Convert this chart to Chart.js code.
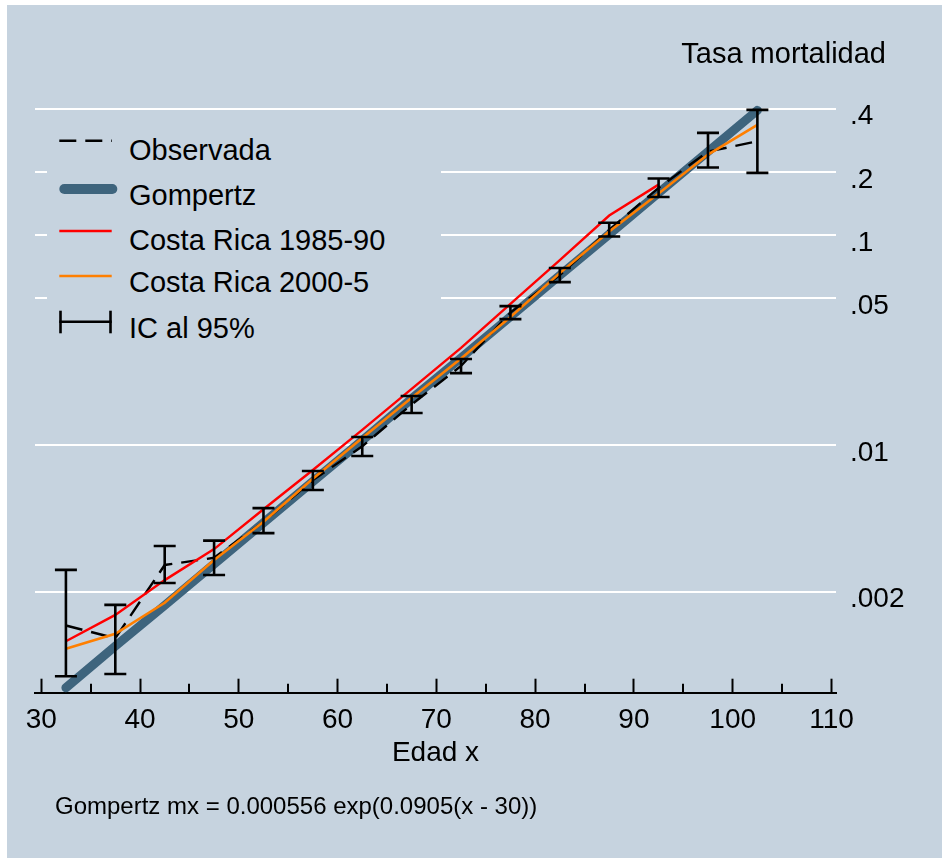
<!DOCTYPE html>
<html>
<head>
<meta charset="utf-8">
<script src="https://cdn.jsdelivr.net/npm/chart.js@4/dist/chart.umd.min.js"></script>
<style>
  body { margin: 0; background: #fff; }
  #wrap { position: absolute; left: 7px; top: 5px; width: 935px; height: 853px; background: #c6d3df; }
  #legend { position: absolute; left: 47px; top: 118px; width: 394px; height: 232px; background: #c6d3df;
            font: 29px "Liberation Sans", Arial, sans-serif; color: #000; }
  #legend svg { position: absolute; left: 0; top: 0; }
  #legend .key { position: absolute; left: 82px; line-height: 29px; white-space: nowrap; }
</style>
</head>
<body>
<div id="wrap"><canvas id="chart" width="935" height="853"></canvas></div>
<div id="legend">
  <svg width="394" height="232">
    <line x1="12.3" y1="22.7" x2="65" y2="22.7" stroke="#000" stroke-width="2.4" stroke-dasharray="17 9"/>
    <line x1="17.3" y1="71" x2="65.3" y2="71" stroke="#3e647d" stroke-width="10" stroke-linecap="round"/>
    <line x1="12.3" y1="113" x2="64.7" y2="113" stroke="#ff0000" stroke-width="2.4"/>
    <line x1="12.3" y1="158" x2="64.7" y2="158" stroke="#ff7f00" stroke-width="2.6"/>
    <line x1="12.3" y1="203.7" x2="64.7" y2="203.7" stroke="#000" stroke-width="2.6"/>
    <line x1="13.5" y1="192.7" x2="13.5" y2="215.3" stroke="#000" stroke-width="2.6"/>
    <line x1="63.5" y1="192.7" x2="63.5" y2="215.3" stroke="#000" stroke-width="2.6"/>
  </svg>
  <div class="key" style="top:18px">Observada</div>
  <div class="key" style="top:63px">Gompertz</div>
  <div class="key" style="top:108px">Costa Rica 1985-90</div>
  <div class="key" style="top:150px">Costa Rica 2000-5</div>
  <div class="key" style="top:196px">IC al 95%</div>
</div>
<script>
// edades (punto medio del grupo quinquenal)
var ages = [32.5, 37.5, 42.5, 47.5, 52.5, 57.5, 62.5, 67.5, 72.5, 77.5, 82.5, 87.5, 92.5, 97.5, 102.5];
// tasas observadas y su intervalo de confianza
var observada = [0.00138, 0.00120, 0.00268, 0.00290, 0.00430, 0.00680, 0.00985, 0.0156, 0.0238, 0.0427, 0.0645, 0.106, 0.168, 0.250, 0.280];
var icLow  = [0.00079, 0.00081, 0.00220, 0.00240, 0.00380, 0.00610, 0.00886, 0.0142, 0.0220, 0.0398, 0.0597, 0.0985, 0.152, 0.210, 0.198];
var icHigh = [0.00254, 0.00173, 0.00330, 0.00350, 0.00500, 0.00752, 0.01092, 0.0171, 0.0257, 0.0459, 0.0697, 0.1145, 0.186, 0.307, 0.395];
// ajuste Gompertz
var gompertz = [0.000697, 0.00110, 0.00172, 0.00271, 0.00426, 0.00670, 0.0105, 0.0166, 0.0260, 0.0409, 0.0643, 0.101, 0.159, 0.250, 0.393];
// tablas de Costa Rica
var costaRica8590 = [0.00116, 0.00155, 0.00227, 0.00319, 0.00494, 0.00760, 0.0118, 0.0185, 0.0290, 0.0470, 0.0760, 0.124, 0.174, null, null];
var costaRica2005 = [0.00107, 0.00126, 0.00177, 0.00283, 0.00431, 0.00690, 0.0108, 0.0168, 0.0258, 0.0407, 0.0659, 0.104, 0.158, 0.242, 0.335];
// ejes
var xTicks = [30, 40, 50, 60, 70, 80, 90, 100, 110];
var xMinorTicks = [35, 45, 55, 65, 75, 85, 95, 105];
var yTicks = [0.002, 0.01, 0.05, 0.1, 0.2, 0.4];
var yTickLabels = ['.002', '.01', '.05', '.1', '.2', '.4'];
var noteText = 'Gompertz mx = 0.000556 exp(0.0905(x - 30))';

var FONT = '"Liberation Sans", Arial, sans-serif';
Chart.defaults.font.family = FONT;
Chart.defaults.color = '#000';

function pts(ys) {
    return ages.map(function (a, i) { return {x: a, y: ys[i]}; });
}

//  vertical segments of the confidence intervals, broken by nulls
var icSegments = [];
var icCaps = [];
ages.forEach(function (a, i) {
    icSegments.push({x: a, y: icLow[i]}, {x: a, y: icHigh[i]}, {x: a, y: null});
    icCaps.push({x: a, y: icLow[i]}, {x: a, y: icHigh[i]});
});

//  minor ticks on the x axis, the note under the graph
var extras = {
    id: 'extras',
    afterLayout: function (chart) {
        //  let the right axis labels run past the narrow axis box
        chart.scales.y.right = chart.width;
    },
    beforeDatasetsDraw: function (chart) {
        var ctx = chart.ctx, x = chart.scales.x;
        ctx.save();
        ctx.strokeStyle = '#000';
        ctx.lineWidth = 2;
        xMinorTicks.forEach(function (v) {
            var px = Math.round(x.getPixelForValue(v));
            ctx.beginPath();
            ctx.moveTo(px, x.top + 1);
            ctx.lineTo(px, x.top - 9);
            ctx.stroke();
        });
        ctx.restore();
    },
    afterDraw: function (chart) {
        var ctx = chart.ctx;
        ctx.save();
        ctx.font = '24px ' + FONT;
        ctx.fillStyle = '#000';
        ctx.textBaseline = 'middle';
        ctx.fillText(noteText, 48, 802);
        ctx.restore();
    }
};

new Chart(document.getElementById('chart'), {
    type: 'line',
    data: {
        datasets: [
            {
                label: 'IC al 95%',
                data: icSegments,
                borderColor: '#000',
                borderWidth: 2.6,
                pointRadius: 0,
                spanGaps: false,
                order: 0
            },
            {
                label: 'IC caps',
                data: icCaps,
                showLine: false,
                pointStyle: 'line',
                pointRadius: 11,
                pointBorderWidth: 2.6,
                pointBorderColor: '#000',
                order: 0
            },
            {
                label: 'Costa Rica 2000-5',
                data: pts(costaRica2005),
                borderColor: '#ff7f00',
                borderWidth: 2.6,
                pointRadius: 0,
                order: 1
            },
            {
                label: 'Costa Rica 1985-90',
                data: pts(costaRica8590),
                borderColor: '#ff0000',
                borderWidth: 2.4,
                pointRadius: 0,
                order: 2
            },
            {
                label: 'Observada',
                data: pts(observada),
                borderColor: '#000',
                borderWidth: 2.4,
                borderDash: [17, 9],
                pointRadius: 0,
                order: 3
            },
            {
                label: 'Gompertz',
                data: pts(gompertz),
                borderColor: '#3e647d',
                borderWidth: 9,
                borderCapStyle: 'round',
                pointRadius: 0,
                order: 4
            }
        ]
    },
    options: {
        responsive: false,
        animation: false,
        events: [],
        layout: {autoPadding: false, padding: {left: 28, right: 56, top: 20, bottom: 85.3}},
        plugins: {
            legend: {display: false},
            tooltip: {enabled: false},
            title: {
                display: true,
                text: 'Tasa mortalidad',
                align: 'end',
                color: '#000',
                font: {size: 29, weight: 'normal'},
                padding: {top: 12.8, bottom: 10}
            }
        },
        scales: {
            x: {
                type: 'linear',
                min: 29.37,
                max: 110.46,
                afterBuildTicks: function (s) { s.ticks = xTicks.map(function (v) { return {value: v}; }); },
                afterFit: function (s) { s.height = 80; s.paddingLeft = 0; s.paddingRight = 0; },
                ticks: {autoSkip: false, maxRotation: 0, padding: 24.5, font: {size: 28}, color: '#000'},
                grid: {display: true, drawOnChartArea: false, drawTicks: true, tickLength: -14, tickWidth: 2, tickColor: '#000'},
                border: {display: true, color: '#000', width: 2},
                title: {display: true, text: 'Edad x', font: {size: 28}, color: '#000', padding: {top: 0, bottom: 3}}
            },
            y: {
                type: 'logarithmic',
                position: 'right',
                min: 0.00066,
                max: 0.533,
                afterBuildTicks: function (s) { s.ticks = yTicks.map(function (v) { return {value: v}; }); },
                afterFit: function (s) { s.width = 50; s.paddingTop = 0; s.paddingBottom = 0; },
                ticks: {
                    padding: 14,
                    labelOffset: 8,
                    font: {size: 28},
                    color: '#000',
                    callback: function (v) { return yTickLabels[yTicks.indexOf(v)]; }
                },
                grid: {color: '#ffffff', lineWidth: 2, drawTicks: false},
                border: {display: false}
            }
        }
    },
    plugins: [extras]
});
</script>
</body>
</html>
